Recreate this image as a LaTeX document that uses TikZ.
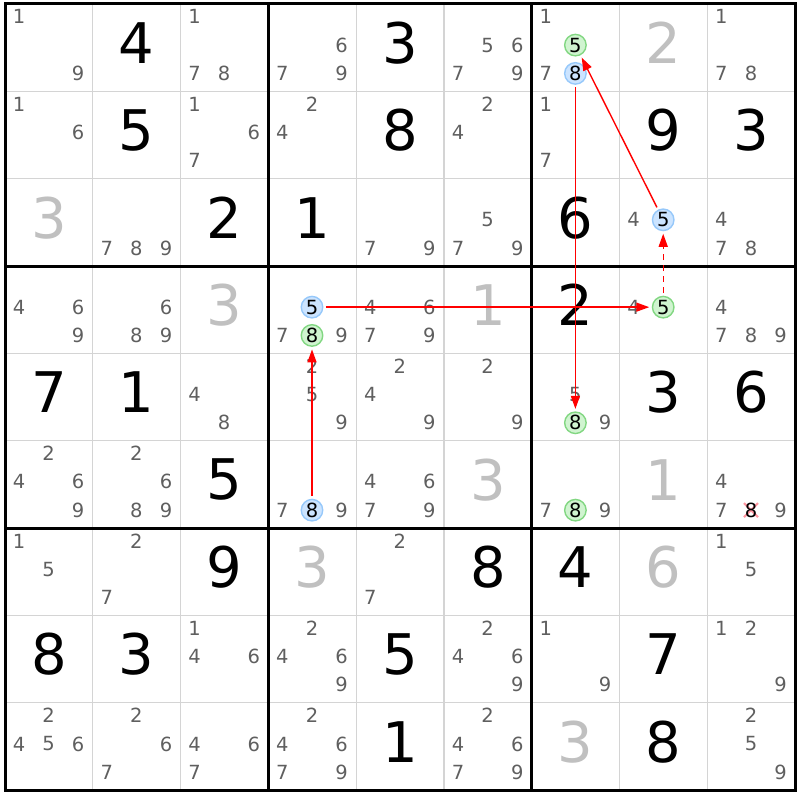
\documentclass[tikz,border=0pt]{standalone}
\usepackage{fontspec}
\setmainfont{DejaVu Sans}
\usetikzlibrary{arrows.meta}

\definecolor{candgrey}{RGB}{95,95,95}
\definecolor{solvedgrey}{RGB}{192,192,192}
\definecolor{gridgrey}{RGB}{212,212,212}
\definecolor{bluefill}{RGB}{204,228,255}
\definecolor{bluering}{RGB}{150,200,250}
\definecolor{greenfill}{RGB}{208,244,208}
\definecolor{greenring}{RGB}{130,215,130}
\definecolor{crosspink}{RGB}{255,150,160}
\definecolor{chainred}{RGB}{255,0,0}

\tikzset{
  cand/.style={inner sep=0pt, text=candgrey, font=\fontsize{19.5}{19.5}\selectfont},
  given/.style={inner sep=0pt, text=black, font=\fontsize{56}{56}\selectfont},
  solved/.style={given, text=solvedgrey},
  bluedot/.style={circle, draw=bluering, fill=bluefill, line width=1.4pt,
    minimum size=21.5pt, inner sep=0pt, text=black, font=\fontsize{19.5}{19.5}\selectfont},
  greendot/.style={bluedot, draw=greenring, fill=greenfill},
  link/.style={draw=chainred, line width=1.4pt, -{Triangle[length=13pt,width=9pt]},
    shorten <=2.5pt, shorten >=2.5pt},
}

\begin{document}
\begin{tikzpicture}[x=1pt, y=-1pt]
	
	\useasboundingbox (0,0) rectangle (800,800);
	
	% cell corners
	\foreach \r in {1,...,9}
	\foreach \c in {1,...,9}
	\coordinate (x\r\c) at ({5+87.8*(\c-1)}, {4+87.35*(\r-1)});
	
	% grid
	\foreach \i in {1,2,4,5,7,8} {
		\draw[gridgrey, line width=1.2pt] ({5+87.8*\i},4) -- ({5+87.8*\i},790.15);
		\draw[gridgrey, line width=1.2pt] (5,{4+87.35*\i}) -- (795.2,{4+87.35*\i});
	}
	\foreach \i in {0,3,6,9} {
		\draw[black, line width=3pt, line cap=rect] ({5+87.8*\i},4) -- ({5+87.8*\i},790.15);
		\draw[black, line width=3pt, line cap=rect] (5,{4+87.35*\i}) -- (795.2,{4+87.35*\i});
	}
	
	% givens
	\foreach \r/\c/\d in {1/2/4, 1/5/3, 2/2/5, 2/5/8, 2/8/9, 2/9/3, 3/3/2, 3/4/1, 3/7/6,
		4/7/2, 5/1/7, 5/2/1, 5/8/3, 5/9/6, 6/3/5, 7/3/9, 7/6/8, 7/7/4,
		8/1/8, 8/2/3, 8/5/5, 8/8/7, 9/5/1, 9/8/8}
	\node[given] (n\r\c) at ([shift={(43.9,39)}]x\r\c) {\d};
	
	% solved
	\foreach \r/\c/\d in {1/8/2, 3/1/3, 4/3/3, 4/6/1, 6/6/3, 6/8/1, 7/4/3, 7/8/6, 9/7/3}
	\node[solved] (m\r\c) at ([shift={(43.9,39)}]x\r\c) {\d};
	
	% candidates
	\foreach \r/\c/\ds in {1/1/{1,9}, 1/3/{1,7,8}, 1/4/{6,7,9}, 1/6/{5,6,7,9}, 1/7/{1,7}, 1/9/{1,7,8},
		2/1/{1,6}, 2/3/{1,6,7}, 2/4/{2,4}, 2/6/{2,4}, 2/7/{1,7},
		3/2/{7,8,9}, 3/5/{7,9}, 3/6/{5,7,9}, 3/8/{4}, 3/9/{4,7,8},
		4/1/{4,6,9}, 4/2/{6,8,9}, 4/4/{7,9}, 4/5/{4,6,7,9}, 4/8/{4}, 4/9/{4,7,8,9},
		5/3/{4,8}, 5/4/{2,5,9}, 5/5/{2,4,9}, 5/6/{2,9}, 5/7/{5,9},
		6/1/{2,4,6,9}, 6/2/{2,6,8,9}, 6/4/{7,9}, 6/5/{4,6,7,9}, 6/7/{7,9}, 6/9/{4,7,9},
		7/1/{1,5}, 7/2/{2,7}, 7/5/{2,7}, 7/9/{1,5},
		8/3/{1,4,6}, 8/4/{2,4,6,9}, 8/6/{2,4,6,9}, 8/7/{1,9}, 8/9/{1,2,9},
		9/1/{2,4,5,6}, 9/2/{2,6,7}, 9/3/{4,6,7}, 9/4/{2,4,6,7,9}, 9/6/{2,4,6,7,9}, 9/9/{2,5,9}} {
		\foreach \d in \ds {
			\pgfmathsetmacro{\dx}{14+29.6*mod(\d-1,3)}
			\pgfmathsetmacro{\dy}{12.8+28.3*int((\d-1)/3)}
			\node[cand] (k\r\c\d) at ([shift={(\dx,\dy)}]x\r\c) {\d};
		}
	}
	
	% eliminated 8
	\coordinate (z698) at ([shift={(43.6,69.4)}]x69);
	\draw[crosspink, line width=2.2pt] ([shift={(-7,-7)}]z698) -- ([shift={(7,7)}]z698);
	\draw[crosspink, line width=2.2pt] ([shift={(-7,7)}]z698) -- ([shift={(7,-7)}]z698);
	\node[cand, text=black] (k698) at (z698) {8};
	
	% marked candidates
	\node[bluedot] (bl178) at ([shift={(43.6,69.4)}]x17) {8};
	\node[greendot] (gr175) at ([shift={(43.6,41.1)}]x17) {5};
	\node[bluedot] (bl385) at ([shift={(43.6,41.1)}]x38) {5};
	\node[bluedot] (bl445) at ([shift={(43.6,41.1)}]x44) {5};
	\node[greendot] (gr448) at ([shift={(43.6,69.4)}]x44) {8};
	\node[greendot] (gr485) at ([shift={(43.6,41.1)}]x48) {5};
	\node[greendot] (gr578) at ([shift={(43.6,69.4)}]x57) {8};
	\node[bluedot] (bl648) at ([shift={(43.6,69.4)}]x64) {8};
	\node[greendot] (gr678) at ([shift={(43.6,69.4)}]x67) {8};
	
	% chain
	\draw[link] (bl445) -- (gr485);
	\draw[link, dash pattern=on 6pt off 5pt] (gr485) -- (bl385);
	\draw[link] (bl385) -- (gr175);
	\draw[link] (bl178) -- (gr578);
	\draw[link] (bl648) -- (gr448);
	
\end{tikzpicture}
\end{document}
